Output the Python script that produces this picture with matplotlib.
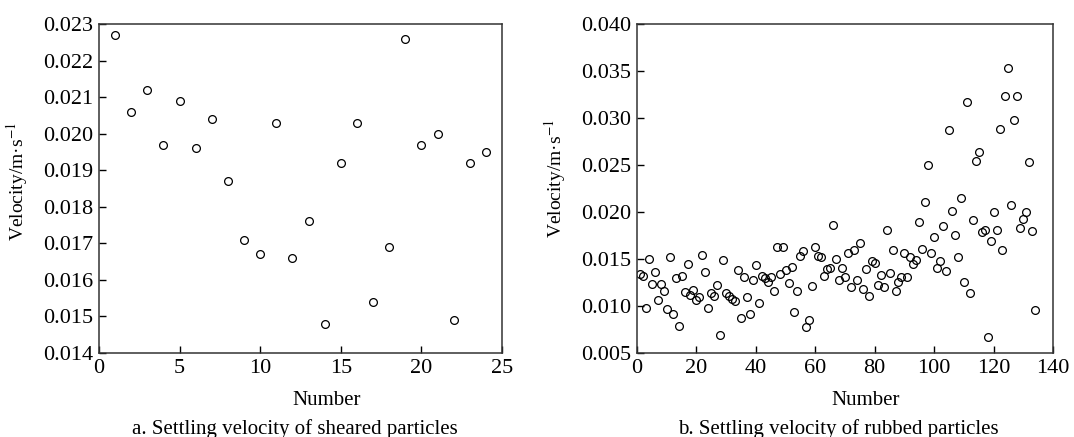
import numpy as np
import matplotlib
matplotlib.use('Agg')
import matplotlib.pyplot as plt
from matplotlib.ticker import FormatStrFormatter

plt.rcParams['font.family'] = ['Liberation Serif', 'DejaVu Serif']
plt.rcParams['mathtext.fontset'] = 'stix'

# (a) sheared particles
sheared_num = np.arange(1, 25)
sheared_vel = [0.0227, 0.0206, 0.0212, 0.0197, 0.0209, 0.0196, 0.0204, 0.0187,
               0.0171, 0.0167, 0.0203, 0.0166, 0.0176, 0.0148, 0.0192, 0.0203,
               0.0154, 0.0169, 0.0226, 0.0197, 0.0200, 0.0149, 0.0192, 0.0195]

# (b) rubbed particles
rubbed_num = np.arange(1, 135)
rubbed_vel = [
    0.01344, 0.01323, 0.00982, 0.01504, 0.01230, 0.01358, 0.01067, 0.01234, 0.01156, 0.00968,
    0.01518, 0.00918, 0.01294, 0.00787, 0.01323, 0.01152, 0.01450, 0.01113, 0.01167, 0.01067,
    0.01092, 0.01539, 0.01362, 0.00982, 0.01142, 0.01106, 0.01220, 0.00688, 0.01486, 0.01138,
    0.01103, 0.01078, 0.01050, 0.01383, 0.00876, 0.01312, 0.01092, 0.00918, 0.01277, 0.01436,
    0.01032, 0.01319, 0.01301, 0.01255, 0.01312, 0.01160, 0.01631, 0.01337, 0.01631, 0.01387,
    0.01241, 0.01418, 0.00933, 0.01156, 0.01532, 0.01589, 0.00773, 0.00848, 0.01209, 0.01624,
    0.01536, 0.01521, 0.01323, 0.01394, 0.01401, 0.01858, 0.01496, 0.01280, 0.01401, 0.01309,
    0.01560, 0.01202, 0.01592, 0.01277, 0.01670, 0.01181, 0.01397, 0.01106, 0.01475, 0.01461,
    0.01220, 0.01326, 0.01202, 0.01805, 0.01351, 0.01596, 0.01160, 0.01255, 0.01305, 0.01567,
    0.01312, 0.01518, 0.01443, 0.01486, 0.01897, 0.01603, 0.02103, 0.02504, 0.01567, 0.01730,
    0.01404, 0.01479, 0.01851, 0.01369, 0.02869, 0.02014, 0.01755, 0.01518, 0.02149, 0.01255,
    0.03174, 0.01138, 0.01918, 0.02543, 0.02635, 0.01787, 0.01805, 0.00670, 0.01695, 0.02000,
    0.01805, 0.02887, 0.01592, 0.03234, 0.03528, 0.02074, 0.02975, 0.03238, 0.01826, 0.01929,
    0.02004, 0.02535, 0.01801, 0.00954]

fig = plt.figure(figsize=(10.74, 4.37), dpi=100)
W, H = 1074, 437
ax1 = fig.add_axes([99 / W, 1 - 353 / H, 403 / W, 329 / H])
ax2 = fig.add_axes([637 / W, 1 - 353 / H, 416 / W, 329 / H])

fs = 15
for ax, x, y in [(ax1, sheared_num, sheared_vel), (ax2, rubbed_num, rubbed_vel)]:
    ax.plot(x, y, 'o', ms=5.6, mfc='none', mec='black', mew=0.9, ls='none')
    ax.tick_params(direction='in', length=5, width=1, labelsize=16, pad=4,
                   top=False, right=False)
    for s in ax.spines.values():
        s.set_linewidth(1.1)
        s.set_color('#333333')
    ax.yaxis.set_major_formatter(FormatStrFormatter('%.3f'))
    ax.set_ylabel('Velocity/m·s$^{-1}$', fontsize=14)
    ax.set_xlabel('Number', fontsize=fs)

ax1.set_xlim(0, 25)
ax1.set_xticks([0, 5, 10, 15, 20, 25])
ax1.set_ylim(0.014, 0.023)
ax1.set_yticks(np.arange(0.014, 0.0231, 0.001))
ax1.xaxis.set_label_coords(0.566, -0.115)
ax1.yaxis.set_label_coords(-0.171, 0.52)

ax2.set_xlim(0, 140)
ax2.set_xticks(np.arange(0, 141, 20))
ax2.set_ylim(0.005, 0.040)
ax2.set_yticks(np.arange(0.005, 0.0401, 0.005))
ax2.xaxis.set_label_coords(0.55, -0.115)
ax2.yaxis.set_label_coords(-0.166, 0.53)

fig.text(295 / W, 1 - 429 / H, 'a. Settling velocity of sheared particles',
         ha='center', va='center', fontsize=fs)
fig.text(838 / W, 1 - 429 / H, 'b. Settling velocity of rubbed particles',
         ha='center', va='center', fontsize=fs)

fig.savefig('out.png', dpi=100)
